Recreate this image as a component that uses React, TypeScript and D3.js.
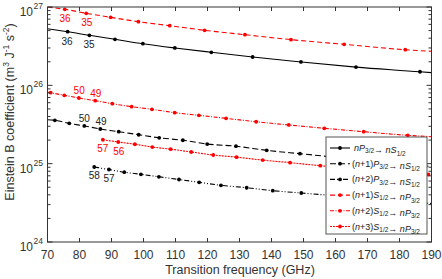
import React from "react";
import * as d3 from "d3";

// transition frequencies (GHz) and Einstein B coefficients
const npFreq = [76.3, 83.1, 91.1, 99.8, 109.8, 121.2, 134.1, 149.2, 166.4, 186.4];
const npB = [4.84e26, 4.35e26, 3.87e26, 3.4e26, 3.0e26, 2.64e26, 2.3e26, 1.99e26, 1.71e26, 1.49e26];

const np1Freq = [72.3, 76.8, 81.5, 86.5, 92.25, 98.5, 104.9, 112.3, 119.9, 128.9, 138.5, 148.9];
const np1B = [3.58e25, 3.27e25, 3.03e25, 2.77e25, 2.56e25, 2.34e25, 2.14e25, 1.99e25, 1.78e25, 1.67e25, 1.48e25, 1.34e25];

const np2Freq = [84.6, 89.2, 94.0, 99.2, 104.8, 111.1, 117.4, 124.2, 132.25, 140.4, 149.3];
const np2B = [9.07e24, 8.42e24, 7.78e24, 7.31e24, 6.8e24, 6.28e24, 5.78e24, 5.29e24, 4.93e24, 4.52e24, 4.22e24];

const ns1Freq = [75.4, 82.1, 89.75, 98.4, 108.2, 119.1, 131.7, 146.1, 162.7, 181.8];
const ns1B = [9.35e26, 8.31e26, 7.38e26, 6.49e26, 5.77e26, 5.04e26, 4.43e26, 3.83e26, 3.34e26, 2.85e26];

const ns2Freq = [71.0, 75.25, 79.8, 84.9, 90.25, 96.3, 102.65, 109.75, 117.3, 125.8, 135.2, 145.4, 156.5, 168.8, 182.6];
const ns2B = [8.05e25, 7.46e25, 6.89e25, 6.37e25, 5.83e25, 5.34e25, 4.94e25, 4.48e25, 4.14e25, 3.79e25, 3.43e25, 3.12e25, 2.83e25, 2.56e25, 2.3e25];

const ns3Freq = [87.3, 92.1, 97.3, 102.75, 108.5, 114.9, 121.8, 129.1, 137.25, 145.8, 155.25, 189.0];
const ns3B = [2.02e25, 1.89e25, 1.77e25, 1.63e25, 1.53e25, 1.41e25, 1.29e25, 1.21e25, 1.11e25, 1.03e25, 9.42e24, 7.27e24];

// where each fitted curve starts and ends (null = curve starts at first marker)
const curveStartB = [5.28e26, 3.64e25, null, 1.0e27, 8.22e25, null];
const curveEndB = [1.45e26, 9.2e24, 3.1e24, 2.72e26, 2.21e25, 7.2e24];

// principal quantum number annotations
const labelText = ["36", "35", "36", "35", "50", "49", "50", "49", "57", "56", "58", "57"];
const labelFreq = [75.5, 82.25, 76.1, 83.0, 79.9, 85.1, 81.5, 86.7, 87.25, 92.25, 84.6, 89.2];
const labelB = [7.09e26, 6.3e26, 3.65e26, 3.34e26, 8.54e25, 7.91e25, 3.72e25, 3.5e25, 1.55e25, 1.45e25, 6.96e24, 6.47e24];
const labelRed = [true, true, false, false, true, true, false, false, true, true, false, false];

const xTicks = [70, 80, 90, 100, 110, 120, 130, 140, 150, 160, 170, 180, 190];
const yExponents = [24, 25, 26, 27];

const series = [
  { freq: npFreq, b: npB, color: "#000", dash: "none" },
  { freq: np1Freq, b: np1B, color: "#000", dash: "6,3" },
  { freq: np2Freq, b: np2B, color: "#000", dash: "5,2,1,2,1,2" },
  { freq: ns1Freq, b: ns1B, color: "#ff0000", dash: "5,3" },
  { freq: ns2Freq, b: ns2B, color: "#ff0000", dash: "4,1.5,1,1.5" },
  { freq: ns3Freq, b: ns3B, color: "#ff0000", dash: "2,1" },
];

const W = 442;
const H = 279;
const left = 47.5;
const right = 431.5;
const top = 7;
const bottom = 242;

const x = d3.scaleLinear().domain([70, 190]).range([left, right]);
const y = d3.scaleLog().domain([1e24, 1e27]).range([bottom, top]);

const FONT = "'Liberation Sans', Arial, sans-serif";
const AX = "#333";
const R = 1.9;

const Sub = ({ t }: { t: string }) => (
  <>
    <tspan dy={2.3} fontSize={6.5}>{t}</tspan>
    <tspan dy={-2.3}></tspan>
  </>
);

const legendRows = [
  { s: 0, pre: "", n: "", P: "P", from: "3/2", S: "S", to: "1/2" },
  { s: 1, pre: "(", n: "+1)", P: "P", from: "3/2", S: "S", to: "1/2" },
  { s: 2, pre: "(", n: "+2)", P: "P", from: "3/2", S: "S", to: "1/2" },
  { s: 3, pre: "(", n: "+1)", P: "S", from: "1/2", S: "P", to: "3/2" },
  { s: 4, pre: "(", n: "+2)", P: "S", from: "1/2", S: "P", to: "3/2" },
  { s: 5, pre: "(", n: "+3)", P: "S", from: "1/2", S: "P", to: "3/2" },
];

export default function App() {
  const line = d3
    .line<[number, number]>()
    .x((d) => x(d[0]))
    .y((d) => y(d[1]))
    .curve(d3.curveMonotoneX);

  const minor: number[] = [];
  for (let e = 24; e < 27; e++) for (let k = 2; k <= 9; k++) minor.push(k * Math.pow(10, e));

  return (
    <div style={{ position: "fixed", left: 0, top: 0 }}>
      <svg width={W} height={H} style={{ display: "block", fontFamily: FONT }}>
        <defs>
          <clipPath id="plot">
            <rect x={left} y={top} width={right - left} height={bottom - top} />
          </clipPath>
        </defs>
        <rect width={W} height={H} fill="#fff" />

        <g clipPath="url(#plot)">
          {series.map((s, i) => {
            const pts: [number, number][] = s.freq.map((f, j) => [f, s.b[j]]);
            const start = curveStartB[i];
            if (start !== null) pts.unshift([70, start]);
            pts.push([190, curveEndB[i]]);
            return (
              <g key={i}>
                <path d={line(pts) || ""} fill="none" stroke={s.color} strokeWidth={1.1} strokeDasharray={s.dash} />
                {s.freq.map((f, j) => (
                  <circle key={j} cx={x(f)} cy={y(s.b[j])} r={R} fill={s.color} />
                ))}
              </g>
            );
          })}
        </g>

        {labelText.map((t, i) => (
          <text
            key={i}
            x={x(labelFreq[i])}
            y={y(labelB[i])}
            fontSize={10}
            textAnchor="middle"
            dominantBaseline="central"
            fill={labelRed[i] ? "#ff0000" : "#222"}
          >
            {t}
          </text>
        ))}

        {/* frame and ticks */}
        <rect x={left} y={top} width={right - left} height={bottom - top} fill="none" stroke={AX} strokeWidth={1} />
        {xTicks.map((t) => (
          <g key={t}>
            <line x1={x(t)} x2={x(t)} y1={bottom} y2={bottom - 4} stroke={AX} />
            <line x1={x(t)} x2={x(t)} y1={top} y2={top + 4} stroke={AX} />
            <text x={x(t)} y={259} fontSize={12} textAnchor="middle" fill={AX}>
              {t}
            </text>
          </g>
        ))}
        {yExponents.map((e) => (
          <g key={e}>
            <line x1={left} x2={left + 5} y1={y(Math.pow(10, e))} y2={y(Math.pow(10, e))} stroke={AX} />
            <line x1={right} x2={right - 5} y1={y(Math.pow(10, e))} y2={y(Math.pow(10, e))} stroke={AX} />
            <text x={33} y={y(Math.pow(10, e)) + 9} fontSize={12} textAnchor="end" fill={AX}>
              10
            </text>
            <text x={33.5} y={y(Math.pow(10, e)) + 2} fontSize={8.5} fill={AX}>
              {e}
            </text>
          </g>
        ))}
        {minor.map((v) => (
          <g key={v}>
            <line x1={left} x2={left + 3} y1={y(v)} y2={y(v)} stroke={AX} />
            <line x1={right} x2={right - 3} y1={y(v)} y2={y(v)} stroke={AX} />
          </g>
        ))}

        {/* axis titles */}
        <text x={240} y={274} fontSize={12.5} textAnchor="middle" fill={AX}>
          Transition frequency (GHz)
        </text>
        <text transform="translate(14,112) rotate(-90)" fontSize={12.5} textAnchor="middle" fill={AX}>
          Einstein B coefficient (m
          <tspan dy={-5} fontSize={8.5}>3</tspan>
          <tspan dy={5}> J</tspan>
          <tspan dy={-5} fontSize={8.5}>-1</tspan>
          <tspan dy={5}> s</tspan>
          <tspan dy={-5} fontSize={8.5}>-2</tspan>
          <tspan dy={5}>)</tspan>
        </text>

        {/* legend */}
        <rect x={326} y={137} width={101} height={97} fill="#fff" stroke="#555" strokeWidth={1} />
        {legendRows.map((r, i) => {
          const s = series[r.s];
          const ly = 148 + i * 15.7;
          return (
            <g key={i}>
              <line x1={330} x2={350} y1={ly} y2={ly} stroke={s.color} strokeWidth={1.1} strokeDasharray={s.dash} />
              <circle cx={340} cy={ly} r={R} fill={s.color} />
              <text x={r.pre ? 352 : 354} y={ly + 3} fontSize={9} fill="#222">
                {r.pre}
                <tspan fontStyle="italic">n</tspan>
                {r.n}
                <tspan fontStyle="italic">{r.P}</tspan>
                <Sub t={r.from} />
                {"\u2192 "}
                <tspan fontStyle="italic">n</tspan>
                <tspan fontStyle="italic">{r.S}</tspan>
                <Sub t={r.to} />
              </text>
            </g>
          );
        })}
      </svg>
    </div>
  );
}
